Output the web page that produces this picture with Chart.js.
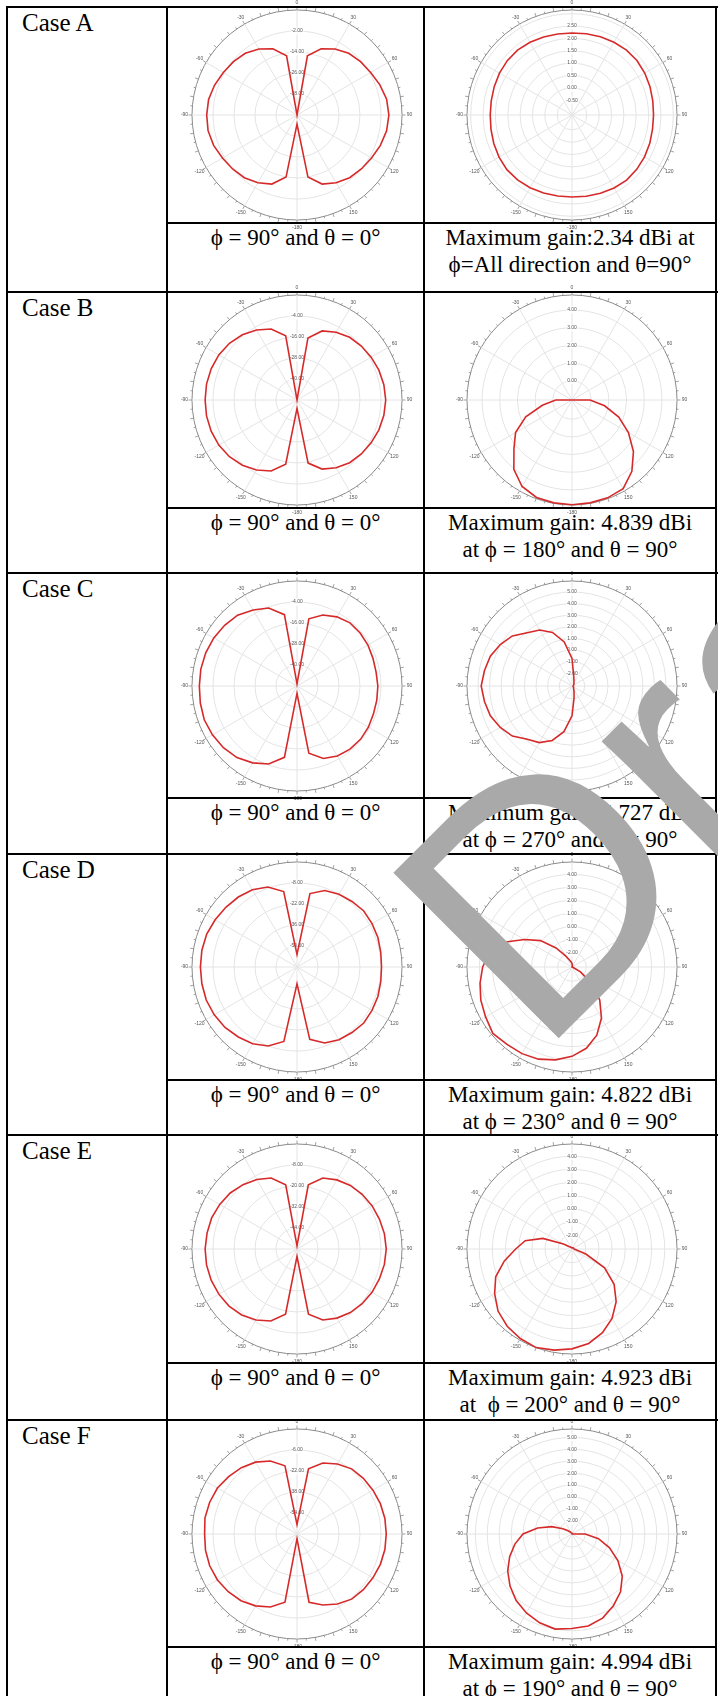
<!DOCTYPE html>
<html>
<head>
<meta charset="utf-8">
<script src="https://cdn.jsdelivr.net/npm/chart.js@4.4.1/dist/chart.umd.min.js"></script>
<style>
  body { margin: 0; background: #fff; }
  #page { position: relative; width: 718px; height: 1696px; overflow: hidden;
          font-family: "Liberation Serif", "Times New Roman", serif; color: #000; }
  .ln { position: absolute; background: #000; z-index: 5; }
  .case { position: absolute; font-size: 25px; line-height: 30px; white-space: nowrap; }
  .cap { position: absolute; font-size: 23px; line-height: 27px; text-align: center; white-space: nowrap; }
  canvas { position: absolute; z-index: 2; }
  #mark { position: absolute; left: 0; top: 0; z-index: 10; pointer-events: none; }
</style>
</head>
<body>
<div id="page"></div>
<script>
// angle categories (deg, clockwise from top) and rim labels every 30 deg
const ANGLES = [0, 10, 20, 30, 40, 50, 60, 70, 80, 90, 100, 110, 120, 130, 140, 150, 160, 170,
                180, 190, 200, 210, 220, 230, 240, 250, 260, 270, 280, 290, 300, 310, 320, 330, 340, 350];
const ANGLE_TICKS = ['0', '30', '60', '90', '120', '150', '-180', '-150', '-120', '-90', '-60', '-30'];

const CASES = ['Case A', 'Case B', 'Case C', 'Case D', 'Case E', 'Case F'];
const ELEV_CAPTION = 'ϕ = 90° and θ = 0°';
const AZIM_CAPTIONS = [
  ['Maximum gain:2.34 dBi at', 'ϕ=All direction and θ=90°'],
  ['Maximum gain: 4.839 dBi', 'at ϕ = 180° and θ = 90°'],
  ['Maximum gain: 4.727 dBi', 'at ϕ = 270° and θ = 90°'],
  ['Maximum gain: 4.822 dBi', 'at ϕ = 230° and θ = 90°'],
  ['Maximum gain: 4.923 dBi', 'at&nbsp; ϕ = 200° and θ = 90°'],
  ['Maximum gain: 4.994 dBi', 'at ϕ = 190° and θ = 90°']
];

// phi = 90, theta = 0 cuts (dB)
const ELEV_A = [-50, -15.7, -9.7, -6.5, -4.0, -2.6, -1.4, 0.4, 2.0, 2.5, 2.0, 0.7, -0.8, -2.0, -3.2, -5.3, -8.0, -14.0,
                -44.8, -14.0, -8.0, -5.3, -3.2, -2.0, -0.8, 0.7, 1.6, 1.6, 1.3, 0.1, -1.4, -2.6, -4.0, -6.5, -9.7, -15.7];
const ELEV_B = [-52, -16, -10, -7.3, -5.2, -4, -3.1, -2.2, -1.6, -1.3, -1.6, -2.2, -3.1, -4, -5.2, -7.3, -10, -15.4,
                -47.2, -14.8, -8.8, -5.8, -3.4, -1.6, -0.4, 0.2, 0.5, 0.5, 0.5, 0.2, -0.4, -1.6, -3.4, -5.8, -8.8, -14.8];
const ELEV_C = [-50.8, -13, -8.8, -6.4, -4.9, -4.9, -5.2, -5.8, -6.1, -5.8, -5.7, -5.5, -4.9, -4.6, -4.9, -5.8, -7.9, -13,
                -47.8, -10.6, -4.6, -1.3, 1.4, 2.9, 3.8, 4.4, 4.1, 3.8, 3.8, 3.5, 2.9, 2.0, 0.8, -1.9, -4.6, -10.6];
const ELEV_D = [-55.6, -14.3, -9.75, -8, -6.95, -5.9, -6.25, -6.6, -7.3, -7.65, -7.3, -6.6, -6.25, -5.9, -6.95, -8, -10.1, -15,
                -52.8, -13.6, -8, -4.85, -3.1, -1.35, -0.3, 0.4, 0.4, 0.4, 0.4, 0.05, -1, -2.05, -3.1, -4.5, -7.3, -12.9];
const ELEV_E = [-54.2, -18.8, -12.8, -10.4, -8.6, -7.4, -6.5, -5.9, -5.3, -5, -5.3, -5.9, -6.5, -7.4, -8.6, -10.4, -12.8, -18.2,
                -51.8, -18.2, -12.2, -9.2, -6.8, -5.3, -4.4, -3.8, -3.5, -3.5, -3.8, -4.1, -5, -6.2, -8, -10.1, -12.8, -18.8];
const ELEV_F = [-62.8, -19.6, -12.4, -8.4, -5.2, -4, -3.2, -2.4, -2, -2, -2, -2.4, -3.2, -4, -5.2, -8.4, -12.4, -17.2,
                -66.4, -17.2, -10.8, -6.8, -3.6, -1.6, 0, 0.8, 0.8, 0.4, 1.2, 0.8, 0, -2, -4, -6.8, -10.8, -17.2];

// theta = 90 cuts (dBi)
const AZIM_A = [2.22, 2.24, 2.27, 2.30, 2.33, 2.33, 2.30, 2.26, 2.22, 2.20, 2.21, 2.25, 2.29, 2.32, 2.34, 2.31, 2.27, 2.24,
                2.22, 2.23, 2.26, 2.30, 2.33, 2.34, 2.31, 2.27, 2.23, 2.21, 2.22, 2.25, 2.29, 2.32, 2.33, 2.30, 2.26, 2.23];
const AZIM_B = [-1.08, -1.08, -1.08, -1.08, -1.08, -1.08, -1.08, -1.08, -1.08, -0.06, 0.79, 1.73, 2.6, 3.45, 4.18, 4.7, 4.8, 4.82,
                4.839, 4.82, 4.78, 4.56, 4.03, 3.2, 2.6, 1.7, 0.62, -0.16, -1.08, -1.08, -1.08, -1.08, -1.08, -1.08, -1.08, -1.08];
const AZIM_C = [-0.73, -2.24, -2.61, -2.76, -2.84, -2.9, -2.93, -2.96, -2.99, -3.01, -2.99, -2.96, -2.96, -2.93, -2.9, -2.81, -2.59, -2.07,
                -0.53, 0.9, 1.9, 2.53, 2.9, 3.61, 4.04, 4.39, 4.56, 4.727, 4.56, 4.39, 4.04, 3.61, 2.9, 2.47, 1.81, 0.76];
const AZIM_D = [-2.84, -2.95, -3.05, -3.1, -3.1, -3.1, -3.1, -3.1, -3.1, -3.1, -3.05, -3.0, -2.35, -1.2, 0.21, 1.42, 2.46, 3.23,
                3.75, 4.13, 4.42, 4.57, 4.65, 4.822, 4.55, 4.34, 4.06, 3.75, 3.31, 2.46, 1.11, 0.05, -1.19, -2.12, -2.53, -2.71];
const AZIM_E = [-2.97, -2.97, -2.96, -2.95, -2.94, -2.93, -2.92, -2.91, -2.9, -2.88, -2.75, -1.93, -0.19, 1.13, 2.17, 3.04, 3.72, 4.24,
                4.54, 4.75, 4.923, 4.81, 4.61, 4.29, 3.74, 3.12, 2.17, 1.23, 0.56, -0.69, -2.3, -2.75, -2.85, -2.9, -2.93, -2.95];
const AZIM_F = [-3.05, -3.1, -3.1, -3.1, -3.1, -3.1, -3.1, -3.1, -3.1, -1.99, -0.85, 0.23, 1.34, 2.4, 3.23, 3.84, 4.4, 4.73,
                4.82, 4.994, 4.82, 4.54, 4.18, 3.68, 3.12, 2.46, 1.76, 1.01, -0.18, -1.29, -2.21, -2.68, -2.88, -3.0, -3.05, -3.05];

// radial scales: centre value, grid circles (last one = outer rim), labelled circles
const ELEV_MIN = [-50, -52, -52, -64, -56, -70];
const ELEV_RINGS = [[-38, -26, -14, -2, 10], [-40, -28, -16, -4, 8], [-40, -28, -16, -4, 8],
                    [-50, -36, -22, -8, 6], [-44, -32, -20, -8, 4], [-54, -38, -22, -6, 10]];
const AZIM_MIN = [-1.1, -1.08, -3.1, -3.1, -3.05, -3.1];
const AZIM_RINGS = [[-0.5, 0, 0.5, 1, 1.5, 2, 2.5, 3, 3.15], [0, 1, 2, 3, 4, 4.85], [-2, -1, 0, 1, 2, 3, 4, 5, 5.95],
                    [-2, -1, 0, 1, 2, 3, 4, 4.95], [-2, -1, 0, 1, 2, 3, 4, 4.93], [-2, -1, 0, 1, 2, 3, 4, 5, 5.7]];
const AZIM_LABELED = [[-0.5, 0, 0.5, 1, 1.5, 2, 2.5], [0, 1, 2, 3, 4], [-2, -1, 0, 1, 2, 3, 4, 5],
                      [-2, -1, 0, 1, 2, 3, 4], [-2, -1, 0, 1, 2, 3, 4], [-2, -1, 0, 1, 2, 3, 4, 5]];

const ELEV = [ELEV_A, ELEV_B, ELEV_C, ELEV_D, ELEV_E, ELEV_F];
const AZIM = [AZIM_A, AZIM_B, AZIM_C, AZIM_D, AZIM_E, AZIM_F];

// table geometry
const ROW_TOP = [7, 292, 573, 854, 1135, 1420];
const ROW_SPLIT = [223, 508, 798, 1080, 1363, 1647];
const COL_X = [7, 167, 424, 716];
const RIM = 105, CW = 280, CH = 244;
const RED = '#d62a2a';

const page = document.getElementById('page');

function line(x, y, w, h) {
  const d = document.createElement('div');
  d.className = 'ln';
  d.style.cssText = `left:${x}px;top:${y}px;width:${w}px;height:${h}px`;
  page.appendChild(d);
}

function text(cls, x, y, w, html) {
  const d = document.createElement('div');
  d.className = cls;
  d.style.left = x + 'px';
  d.style.top = y + 'px';
  if (w) d.style.width = w + 'px';
  d.innerHTML = html;
  page.appendChild(d);
}

const rimPlugin = {
  id: 'rim',
  afterDraw(chart) {
    const s = chart.scales.r;
    const ctx = chart.ctx;
    ctx.save();
    ctx.strokeStyle = '#8a8a8a';
    ctx.lineWidth = 0.8;
    for (let k = 0; k < 72; k++) {
      const a = s.getPointPosition(k / 2, s.drawingArea);
      const b = s.getPointPosition(k / 2, s.drawingArea + (k % 2 ? 2 : 3.5));
      ctx.beginPath();
      ctx.moveTo(a.x, a.y);
      ctx.lineTo(b.x, b.y);
      ctx.stroke();
    }
    ctx.fillStyle = '#555';
    ctx.font = '5px "Liberation Sans", Arial, sans-serif';
    ctx.textAlign = 'center';
    ctx.textBaseline = 'middle';
    ANGLE_TICKS.forEach((t, j) => {
      const p = s.getPointPosition(j * 3, s.drawingArea + 7.5);
      ctx.fillText(t, p.x, p.y);
    });
    ctx.restore();
  }
};

function polar(cx, cy, values, min, rings, labeled) {
  const cv = document.createElement('canvas');
  cv.width = CW;
  cv.height = CH;
  cv.style.left = (cx - CW / 2) + 'px';
  cv.style.top = (cy - CH / 2) + 'px';
  page.appendChild(cv);
  const max = rings[rings.length - 1];
  return new Chart(cv, {
    type: 'radar',
    data: {
      labels: ANGLES,
      datasets: [{ data: values, borderColor: RED, borderWidth: 1.6, pointRadius: 0, fill: false, tension: 0 }]
    },
    options: {
      responsive: false,
      animation: false,
      plugins: { legend: { display: false }, tooltip: { enabled: false } },
      scales: {
        r: {
          min: min,
          max: max,
          startAngle: 0,
          afterBuildTicks: s => { s.ticks = rings.map(v => ({ value: v })); },
          afterFit: s => { s.xCenter = CW / 2; s.yCenter = CH / 2; s.drawingArea = RIM; },
          grid: {
            circular: true,
            lineWidth: 1,
            color: c => (c.tick && c.tick.value === max) ? '#8a8a8a' : '#e4e4e4'
          },
          angleLines: {
            color: '#e4e4e4',
            lineWidth: c => (c.index % 3 === 0 ? 1 : 0)
          },
          pointLabels: { display: false },
          ticks: {
            color: '#555',
            font: { size: 5, family: '"Liberation Sans", Arial, sans-serif' },
            backdropColor: 'rgba(255,255,255,0.85)',
            backdropPadding: 1,
            showLabelBackdrop: c => !!(c.tick && c.tick.label),
            callback: v => (labeled.indexOf(v) >= 0 ? v.toFixed(2) : '')
          }
        }
      }
    },
    plugins: [rimPlugin]
  });
}

CASES.forEach((name, i) => {
  const top = ROW_TOP[i];
  const split = ROW_SPLIT[i];
  const cy = (top + split) / 2;
  polar(297, cy, ELEV[i], ELEV_MIN[i], ELEV_RINGS[i], ELEV_RINGS[i].slice(0, -1));
  polar(572, cy, AZIM[i], AZIM_MIN[i], AZIM_RINGS[i], AZIM_LABELED[i]);
  text('case', 22, top + 1, 0, name);
  text('cap', COL_X[1], split + 1, COL_X[2] - COL_X[1], ELEV_CAPTION);
  text('cap', COL_X[2], split + 1, COL_X[3] - COL_X[2], AZIM_CAPTIONS[i].join('<br>'));
  line(COL_X[0] - 1, top - 1, 718, 2);
  line(COL_X[1] - 1, split - 1, 718 - COL_X[1], 2);
});
COL_X.forEach(x => line(x - 1, ROW_TOP[0] - 1, 2, 1700));

// draft watermark over the page
page.insertAdjacentHTML('beforeend',
  '<svg id="mark" width="718" height="1696"><text x="539" y="1058" transform="rotate(-45 539 1058)" ' +
  'font-family="Liberation Sans, Arial, sans-serif" font-size="340" fill="#a9a9a9">Draft</text></svg>');
</script>
</body>
</html>
